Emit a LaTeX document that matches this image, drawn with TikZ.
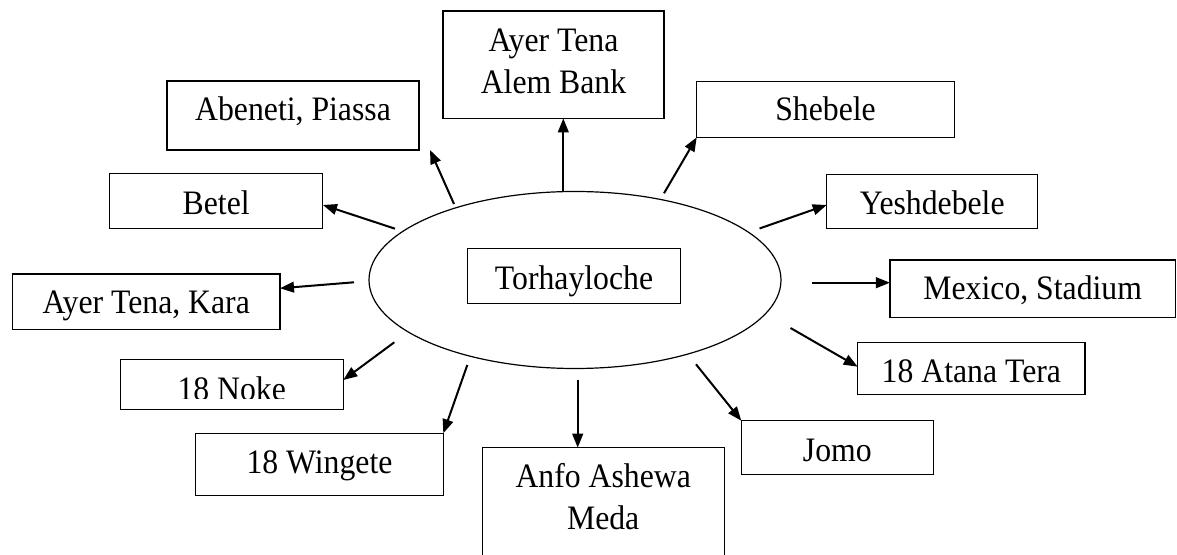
\documentclass[tikz,border=0pt]{standalone}
\usepackage{fontspec}
\usepackage{graphicx}
\setmainfont{Liberation Serif}
\usetikzlibrary{arrows.meta,shapes.geometric}
\newcommand\tallt[1]{\scalebox{1}[1.08]{#1}}
\begin{document}
\begin{tikzpicture}[x=0.75pt,y=-0.75pt,
  boxnode/.style={draw,line width=0.8pt,rectangle,inner sep=0pt,outer sep=0pt},
  txt/.style={anchor=base,inner sep=0pt,font=\fontsize{23.8pt}{31.3pt}\selectfont},
  arr/.style={line width=1.5pt,-{Triangle[length=10.5pt,width=8pt]}}]
\useasboundingbox (0,0) rectangle (1177,555);
\clip (0,0) rectangle (1177,555);
\fill[white] (0,0) rectangle (1177,555);

% hub
\node[ellipse,draw,line width=0.9pt,inner sep=0pt,minimum width=309pt,minimum height=132.75pt] (hub) at (575,280) {};
\node[boxnode,minimum width=160pt,minimum height=41.1pt] (torh) at (574,275.9) {};
\node[txt] at (574,289.3) {\tallt{Torhayloche}};

% boxes
\node[boxnode,minimum width=165.75pt,minimum height=80.5pt] (ayer) at (553.5,64.7) {};
\node[txt] at (553.5,52) {\tallt{Ayer Tena}};
\node[txt] at (553.5,93.5) {\tallt{Alem Bank}};

\node[boxnode,minimum width=189pt,minimum height=51.75pt] (abeneti) at (293,115.5) {};
\node[txt] at (293,120.7) {\tallt{Abeneti, Piassa}};

\node[boxnode,minimum width=159.75pt,minimum height=41pt] (betel) at (216.2,201.3) {};
\node[txt] at (216.2,215) {\tallt{Betel}};

\node[boxnode,minimum width=200.5pt,minimum height=41.5pt] (kara) at (146.3,301.7) {};
\node[txt] at (146.3,313.3) {\tallt{Ayer Tena, Kara}};

\node[boxnode,minimum width=167.5pt,minimum height=37.7pt] (noke) at (231.7,384.2) {};
\begin{scope}
\clip (120,359) rectangle (343.3,398.3);
\node[txt] at (231.7,400.5) {\tallt{18 Noke}};
\end{scope}

\node[boxnode,minimum width=185.7pt,minimum height=46.8pt] (wingete) at (319.5,464.5) {};
\node[txt] at (319.5,473.3) {\tallt{18 Wingete}};

\node[boxnode,minimum width=181.7pt,minimum height=112.5pt] (anfo) at (603.2,522.7) {};
\node[txt] at (603.2,487.3) {\tallt{Anfo Ashewa}};
\node[txt] at (603.2,529.3) {\tallt{Meda}};

\node[boxnode,minimum width=144pt,minimum height=40.5pt] (jomo) at (837.3,447.7) {};
\node[txt] at (837.3,461) {\tallt{Jomo}};

\node[boxnode,minimum width=170.5pt,minimum height=39pt] (atana) at (971.3,368.3) {};
\node[txt] at (971.3,382.7) {\tallt{18 Atana Tera}};

\node[boxnode,minimum width=214.1pt,minimum height=43pt] (mexico) at (1032.7,288.7) {};
\node[txt] at (1032.7,300) {\tallt{Mexico, Stadium}};

\node[boxnode,minimum width=158.25pt,minimum height=40.8pt] (yesh) at (932.2,201.5) {};
\node[txt] at (932.2,215) {\tallt{Yeshdebele}};

\node[boxnode,minimum width=193.2pt,minimum height=42.2pt] (shebele) at (825.5,109.2) {};
\node[txt] at (825.5,120.7) {\tallt{Shebele}};

% arrow start points near the hub
\coordinate (sAyer) at (563.3,191.7);
\coordinate (sAben) at (454,204);
\coordinate (eAben) at (430,150);
\coordinate (sBetel) at (395,228.7);
\coordinate (eBetel) at (323,205);
\coordinate (sKara) at (354,282.3);
\coordinate (eKara) at (280,288.3);
\coordinate (sNoke) at (394.3,342.3);
\coordinate (eNoke) at (343.3,380);
\coordinate (sWing) at (467.3,365);
\coordinate (sAnfo) at (577.7,380);
\coordinate (sJomo) at (696,364.3);
\coordinate (sAtana) at (790.5,328);
\coordinate (eAtana) at (857.7,366.7);
\coordinate (sMex) at (812.3,282.7);
\coordinate (sYesh) at (759.5,228.5);
\coordinate (eYesh) at (826.7,205);
\coordinate (sSheb) at (664,193.3);

\draw[arr] (sAyer) -- (sAyer |- ayer.south);
\draw[arr] (sAben) -- (eAben);
\draw[arr] (sBetel) -- (eBetel);
\draw[arr] (sKara) -- (eKara);
\draw[arr] (sNoke) -- (eNoke);
\draw[arr] (sWing) -- (wingete.north east);
\draw[arr] (sAnfo) -- (sAnfo |- anfo.north);
\draw[arr] (sJomo) -- (jomo.north west);
\draw[arr] (sAtana) -- (eAtana);
\draw[arr] (sMex) -- (sMex -| mexico.west);
\draw[arr] (sYesh) -- (eYesh);
\draw[arr] (sSheb) -- (shebele.south west);
\end{tikzpicture}
\end{document}
